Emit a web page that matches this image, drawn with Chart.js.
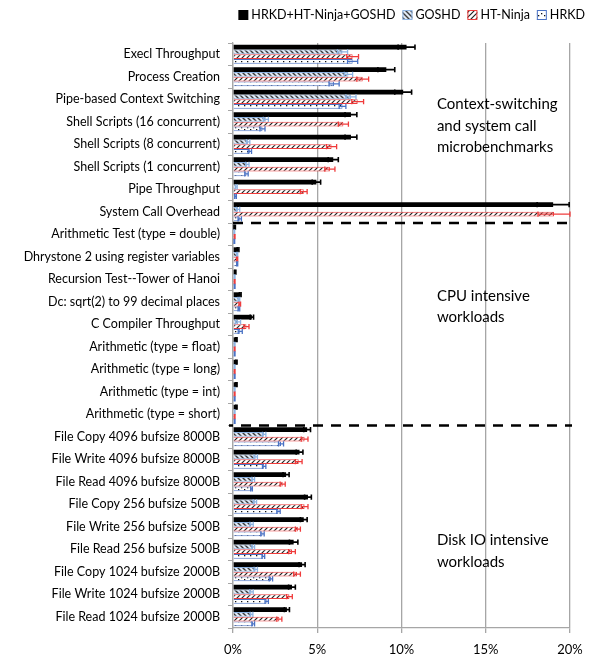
<!DOCTYPE html>
<html>
<head>
<meta charset="utf-8">
<script src="https://cdn.jsdelivr.net/npm/chart.js@4.4.1/dist/chart.umd.min.js"></script>
<style>
  html, body { margin: 0; padding: 0; background: #fff; }
  #wrap { width: 589px; height: 655px; }
</style>
</head>
<body>
<div id="wrap"><canvas id="overheadChart" width="589" height="655"></canvas></div>
<script>
// ─── Data (percent overhead) ───────────────────────────────────────────
const categories = [
    'Execl Throughput', 'Process Creation', 'Pipe-based Context Switching',
    'Shell Scripts (16 concurrent)', 'Shell Scripts (8 concurrent)', 'Shell Scripts (1 concurrent)',
    'Pipe Throughput', 'System Call Overhead',
    'Arithmetic Test (type = double)', 'Dhrystone 2 using register variables',
    'Recursion Test--Tower of Hanoi', 'Dc: sqrt(2) to 99 decimal places', 'C Compiler Throughput',
    'Arithmetic (type = float)', 'Arithmetic (type = long)', 'Arithmetic (type = int)', 'Arithmetic (type = short)',
    'File Copy 4096 bufsize 8000B', 'File Write 4096 bufsize 8000B', 'File Read 4096 bufsize 8000B',
    'File Copy 256 bufsize 500B', 'File Write 256 bufsize 500B', 'File Read 256 bufsize 500B',
    'File Copy 1024 bufsize 2000B', 'File Write 1024 bufsize 2000B', 'File Read 1024 bufsize 2000B'
];
const seriesNames = ['HRKD+HT-Ninja+GOSHD', 'GOSHD', 'HT-Ninja', 'HRKD'];

const combined    = [10.3, 9.1, 10.1, 7.0, 7.0, 5.95, 4.95, 19.0, 0.1, 0.3, 0.14, 0.43, 1.12, 0.2, 0.2, 0.2, 0.2, 4.4, 3.95, 3.15, 4.45, 4.2, 3.6, 4.1, 3.5, 3.2];
const combinedErr = [0.5, 0.5, 0.5, 0.35, 0.35, 0.3, 0.25, 0.95, 0.04, 0.05, 0.03, 0.05, 0.1, 0.04, 0.04, 0.04, 0.04, 0.2, 0.2, 0.18, 0.2, 0.2, 0.25, 0.18, 0.2, 0.15];
const goshd       = [6.5, 6.85, 7.0, 1.95, 0.9, 0.85, 0.2, 0.3, 0.08, 0.25, 0.1, 0.35, 0.3, 0.1, 0.1, 0.1, 0.1, 1.85, 1.35, 1.2, 1.3, 1.1, 1.2, 1.35, 1.1, 1.1];
const goshdErr    = [0.3, 0.25, 0.3, 0.15, 0.1, 0.1, 0.05, 0.1, 0.02, 0.03, 0.02, 0.05, 0.15, 0.02, 0.02, 0.02, 0.02, 0.1, 0.1, 0.08, 0.1, 0.1, 0.08, 0.1, 0.1, 0.08];
const htNinja     = [7.1, 7.7, 7.4, 6.55, 5.85, 5.75, 4.2, 19.05, 0.1, 0.25, 0.1, 0.4, 0.8, 0.1, 0.1, 0.1, 0.1, 4.25, 3.9, 2.95, 4.25, 3.85, 3.5, 3.8, 3.35, 2.75];
const htNinjaErr  = [0.35, 0.35, 0.35, 0.3, 0.3, 0.3, 0.2, 0.95, 0.02, 0.03, 0.02, 0.05, 0.15, 0.02, 0.02, 0.02, 0.02, 0.2, 0.2, 0.15, 0.2, 0.15, 0.2, 0.2, 0.17, 0.15];
const hrkd        = [7.1, 6.0, 6.5, 1.75, 1.0, 0.8, 0.15, 0.4, 0.08, 0.25, 0.1, 0.35, 0.43, 0.1, 0.1, 0.1, 0.1, 2.85, 1.85, 1.1, 2.7, 1.75, 1.8, 2.25, 2.0, 1.2];
const hrkdErr     = [0.3, 0.3, 0.2, 0.15, 0.1, 0.1, 0.05, 0.1, 0.02, 0.03, 0.02, 0.05, 0.12, 0.02, 0.02, 0.02, 0.02, 0.15, 0.1, 0.05, 0.1, 0.1, 0.08, 0.1, 0.1, 0.08];

const xTickLabels = ['0%', '5%', '10%', '15%', '20%'];

// group separators sit between these category indices
const separators = [7.5, 16.5];
const groupNotes = [
    { at: 2.22, lines: ['Context-switching', 'and system call', 'microbenchmarks'] },
    { at: 10.74, lines: ['CPU intensive', 'workloads'] },
    { at: 21.6, lines: ['Disk IO intensive', 'workloads'] }
];

const FONT = "Lato, 'Open Sans', sans-serif";

// ─── Fill patterns ─────────────────────────────────────────────────────
function makePattern(draw, size) {
    const c = document.createElement('canvas');
    c.width = size; c.height = size;
    draw(c.getContext('2d'), size);
    return c.getContext('2d').createPattern(c, 'repeat');
}
const goshdFill = makePattern((g, s) => {
    g.fillStyle = '#dfe8f5'; g.fillRect(0, 0, s, s);
    g.strokeStyle = '#3a3a3a'; g.lineWidth = 1.4;
    g.beginPath();
    g.moveTo(-1, -1); g.lineTo(s + 1, s + 1);
    g.moveTo(-1, s - 1); g.lineTo(1, s + 1);
    g.moveTo(s - 1, -1); g.lineTo(s + 1, 1);
    g.stroke();
}, 5);
const htFill = makePattern((g, s) => {
    g.fillStyle = '#fff'; g.fillRect(0, 0, s, s);
    g.strokeStyle = '#222'; g.lineWidth = 1.2;
    g.beginPath();
    g.moveTo(-1, s + 1); g.lineTo(s + 1, -1);
    g.moveTo(-1, 1); g.lineTo(1, -1);
    g.moveTo(s - 1, s + 1); g.lineTo(s + 1, s - 1);
    g.stroke();
}, 5);
const hrkdFill = makePattern((g, s) => {
    g.fillStyle = '#fff'; g.fillRect(0, 0, s, s);
    g.fillStyle = '#111';
    g.fillRect(1, 1, 1.3, 1.3);
    g.fillRect(4, 3, 1.3, 1.3);
}, 6);

const SERIES_STYLE = [
    { fill: '#000', border: '#000', err: '#000', errW: 1.6 },
    { fill: goshdFill, border: '#8db3e2', err: '#8db3e2', errW: 1.3 },
    { fill: htFill, border: '#f03c3c', err: '#f03c3c', errW: 1.3 },
    { fill: hrkdFill, border: '#4a72c4', err: '#4a72c4', errW: 1.3 }
];
const seriesValues = [combined, goshd, htNinja, hrkd];
const seriesErrors = [combinedErr, goshdErr, htNinjaErr, hrkdErr];

// ─── Plugins: error bars, separators, notes, legend ───────────────────
const errorBars = {
    id: 'errorBars',
    afterDatasetsDraw(chart) {
        const ctx = chart.ctx, xs = chart.scales.x;
        chart.data.datasets.forEach((ds, i) => {
            const meta = chart.getDatasetMeta(i);
            const st = SERIES_STYLE[i];
            ctx.save();
            ctx.strokeStyle = st.err;
            ctx.lineWidth = st.errW;
            meta.data.forEach((bar, j) => {
                const v = seriesValues[i][j], e = seriesErrors[i][j];
                const x1 = xs.getPixelForValue(Math.max(0, v - e));
                const x2 = xs.getPixelForValue(v + e);
                const y = bar.y, h = 2.6;
                ctx.beginPath();
                ctx.moveTo(x1, y); ctx.lineTo(x2, y);
                ctx.moveTo(x1, y - h); ctx.lineTo(x1, y + h);
                ctx.moveTo(x2, y - h); ctx.lineTo(x2, y + h);
                ctx.stroke();
            });
            ctx.restore();
        });
    }
};

const overlays = {
    id: 'overlays',
    afterDraw(chart) {
        const ctx = chart.ctx, xs = chart.scales.x, ys = chart.scales.y;
        ctx.save();
        // dashed group separators
        ctx.strokeStyle = '#000';
        ctx.lineWidth = 2.5;
        ctx.setLineDash([10, 8]);
        separators.forEach((s, k) => {
            const y = ys.getPixelForValue(s);
            ctx.lineDashOffset = k === 1 ? 6 : 0;
            ctx.beginPath();
            ctx.moveTo(xs.left - (k === 1 ? 4 : 0), y);
            ctx.lineTo(xs.right + 2, y);
            ctx.stroke();
        });
        ctx.setLineDash([]);
        // group notes
        ctx.fillStyle = '#000';
        ctx.font = '15px ' + FONT;
        ctx.textBaseline = 'middle';
        ctx.textAlign = 'left';
        const nx = xs.getPixelForValue(12.1);
        groupNotes.forEach(n => {
            const y0 = ys.getPixelForValue(n.at);
            n.lines.forEach((t, k) => ctx.fillText(t, nx, y0 + k * 21.5));
        });
        // legend, right aligned at top
        ctx.font = '12.5px ' + FONT;
        const box = 10, gapBox = 3, gapItem = 7;
        let x = 585;
        const y = 15;
        for (let i = seriesNames.length - 1; i >= 0; i--) {
            const w = ctx.measureText(seriesNames[i]).width;
            x -= w;
            ctx.fillStyle = '#000';
            ctx.fillText(seriesNames[i], x, y);
            x -= gapBox + box;
            const st = SERIES_STYLE[i];
            ctx.fillStyle = st.fill;
            ctx.fillRect(x, y - box / 2, box, box);
            if (i > 0) {
                ctx.strokeStyle = st.border;
                ctx.lineWidth = 1;
                ctx.strokeRect(x + 0.5, y - box / 2 + 0.5, box - 1, box - 1);
            }
            x -= gapItem;
        }
        ctx.restore();
    }
};

new Chart(document.getElementById('overheadChart'), {
    type: 'bar',
    data: {
        labels: categories,
        datasets: seriesValues.map((vals, i) => ({
            label: seriesNames[i],
            data: vals,
            backgroundColor: SERIES_STYLE[i].fill,
            borderColor: SERIES_STYLE[i].border,
            borderWidth: i === 0 ? 0 : 1,
            categoryPercentage: 0.84,
            barPercentage: 1.0
        }))
    },
    options: {
        indexAxis: 'y',
        responsive: false,
        animation: false,
        layout: { padding: { top: 43, right: 19, bottom: 0, left: 5 } },
        plugins: {
            legend: { display: false },
            tooltip: { enabled: false }
        },
        scales: {
            x: {
                min: 0,
                max: 20,
                ticks: {
                    stepSize: 5,
                    color: '#000',
                    padding: 9,
                    maxRotation: 0,
                    font: { family: FONT, size: 13 },
                    callback: v => xTickLabels[v / 5]
                },
                grid: { color: '#a6a6a6', lineWidth: 1.3, tickLength: 5 },
                border: { color: '#a6a6a6', width: 1.3 },
                afterFit(scale) {
                    scale.height = 27;
                    scale.paddingLeft = 0;
                    scale.paddingRight = 0;
                }
            },
            y: {
                ticks: {
                    color: '#000',
                    font: { family: FONT, size: 12.5 },
                    padding: 8,
                    autoSkip: false
                },
                grid: { drawOnChartArea: false, offset: true, tickLength: 5, color: '#a6a6a6' },
                border: { color: '#a6a6a6', width: 1.3 },
                afterFit(scale) { scale.width = 228; }
            }
        }
    },
    plugins: [errorBars, overlays]
});
</script>
</body>
</html>
